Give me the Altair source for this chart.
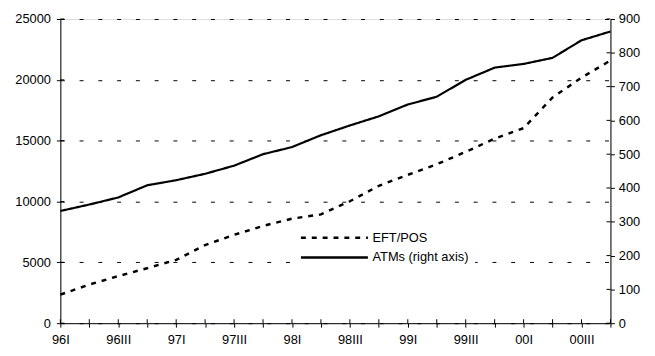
import json
import altair as alt
import pandas as pd

quarters = ["96I", "96II", "96III", "96IV", "97I", "97II", "97III", "97IV",
            "98I", "98II", "98III", "98IV", "99I", "99II", "99III", "99IV",
            "00I", "00II", "00III", "00IV"]
eft_pos = [2350, 3170, 3870, 4520, 5200, 6420, 7260, 7990, 8590, 8940,
           10020, 11290, 12190, 13060, 14080, 15170, 16030, 18550, 20180, 21590]
atms = [332, 351, 372, 408, 423, 442, 466, 500, 521, 556,
        585, 612, 647, 670, 720, 756, 767, 785, 837, 863]
series_names = ["EFT/POS", "ATMs (right axis)"]
left_ticks = [0, 5000, 10000, 15000, 20000, 25000]
right_ticks = [0, 100, 200, 300, 400, 500, 600, 700, 800, 900]

W, H = 557, 308
df_eft = pd.DataFrame({"q": quarters, "v": eft_pos, "s": series_names[0]})
df_atm = pd.DataFrame({"q": quarters, "v": atms, "s": series_names[1]})
df_xt = pd.DataFrame({"q": quarters})
df_lt = pd.DataFrame({"v": left_ticks})
df_rt = pd.DataFrame({"v": right_ticks})

FONT = "Liberation Sans"
FS = 13

xscale = alt.Scale(type="point", padding=0)
x = alt.X(
    "q:O", sort=quarters, title=None, scale=xscale,
    axis=alt.Axis(
        labelAngle=0,
        labelExpr="indexof(%s, datum.value) %% 2 == 0 ? datum.value : ''" % json.dumps(quarters),
        domainColor="black", tickColor="black", tickSize=4, labelPadding=7,
        labelColor="black", labelFont=FONT, labelFontSize=FS, grid=False,
    ),
)
left_scale = alt.Scale(domain=[0, 25000], nice=False, zero=True)
right_scale = alt.Scale(domain=[0, 900], nice=False, zero=True)

dash = alt.StrokeDash(
    "s:N", title=None,
    scale=alt.Scale(domain=series_names, range=[[5, 6], [1, 0]]),
    legend=alt.Legend(
        orient="none", legendX=236, legendY=208,
        symbolType="stroke", symbolSize=4600, symbolStrokeWidth=2.5,
        symbolStrokeColor="black", labelFont=FONT, labelFontSize=FS,
        labelColor="black", labelOffset=3, fillColor="white",
        padding=6, rowPadding=5, clipHeight=15,
    ),
)

eft_layer = alt.Chart(df_eft).mark_line(color="black", strokeWidth=2.5).encode(
    x=x,
    y=alt.Y(
        "v:Q", title=None, scale=left_scale,
        axis=alt.Axis(
            orient="left", values=left_ticks, format="d",
            domainColor="black", tickColor="black", tickSize=4, labelPadding=6,
            labelColor="black", labelFont=FONT, labelFontSize=FS,
            grid=True, gridColor="black", gridDash=[4, 15], gridWidth=1,
        ),
    ),
    strokeDash=dash,
)

atm_layer = alt.Chart(df_atm).mark_line(color="black", strokeWidth=2.2).encode(
    x=x,
    y=alt.Y(
        "v:Q", title=None, scale=right_scale,
        axis=alt.Axis(
            orient="right", values=right_ticks, format="d",
            domainColor="black", tickColor="black", tickSize=4, labelPadding=4,
            labelColor="black", labelFont=FONT, labelFontSize=FS, grid=False,
        ),
    ),
    strokeDash=dash,
)

# inner halves of the axis ticks (ticks cross the axis lines in the reference)
x_inner = alt.Chart(df_xt).mark_rule(color="black", strokeWidth=1).encode(
    x=x,
    y=alt.value(H - 4), y2=alt.value(H),
)
l_inner = alt.Chart(df_lt).mark_rule(color="black", strokeWidth=1).encode(
    y=alt.Y("v:Q", scale=left_scale, axis=None),
    x=alt.value(0), x2=alt.value(4),
)
r_inner = alt.Chart(df_rt).mark_rule(color="black", strokeWidth=1).encode(
    y=alt.Y("v:Q", scale=right_scale, axis=None),
    x=alt.value(W - 4), x2=alt.value(W),
)

chart = (
    alt.layer(eft_layer, atm_layer, x_inner, l_inner, r_inner)
    .resolve_scale(y="independent")
    .properties(
        width=W, height=H,
        autosize=alt.AutoSizeParams(type="none"),
        padding={"left": 53, "top": 9, "right": 37, "bottom": 23},
    )
    .configure_view(stroke=None)
    .configure(background="white")
)

chart.save("out.html", embed_options={"renderer": "svg", "actions": False})
